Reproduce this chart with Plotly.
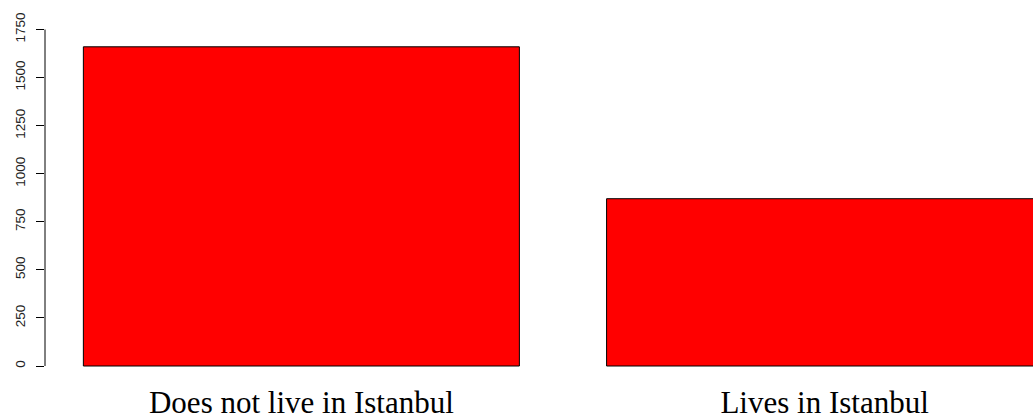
import plotly.graph_objects as go

# Counts per group
categories = ["Does not live in Istanbul", "Lives in Istanbul"]
counts = [1660, 870]
y_ticks = [0, 250, 500, 750, 1000, 1250, 1500, 1750]

# Bar layout in the style of base-R barplot: unit width, 0.2 spacing
bar_width = 1.0
space = 0.2
centers = [space + i * (bar_width + space) + bar_width / 2 for i in range(len(categories))]

fig = go.Figure(
    go.Bar(
        x=centers,
        y=counts,
        width=bar_width,
        marker=dict(color="#FF0000", line=dict(color="#000000", width=1)),
        hoverinfo="x+y",
    )
)

fig.update_layout(
    width=1033,
    height=420,
    margin=dict(l=45, r=0, t=0, b=50),
    paper_bgcolor="white",
    plot_bgcolor="white",
    showlegend=False,
    xaxis=dict(
        range=[0.112, 2.378],
        tickvals=centers,
        ticktext=categories,
        showgrid=False,
        zeroline=False,
        showline=False,
        ticks="",
        automargin=False,
        tickfont=dict(family="Liberation Serif", size=31, color="#000000"),
        ticklabelstandoff=11,
    ),
    yaxis=dict(
        range=[-20.8, 1903.4],
        tickvals=y_ticks,
        showgrid=False,
        zeroline=False,
        showline=False,
        ticks="outside",
        ticklen=8,
        tickcolor="#000000",
        tickwidth=1,
        tickangle=-90,
        automargin=False,
        tickfont=dict(family="Liberation Sans", size=13.5, color="#222222"),
        ticklabelstandoff=6,
    ),
    shapes=[
        dict(
            type="line",
            xref="paper",
            yref="y",
            x0=0,
            x1=0,
            y0=y_ticks[0],
            y1=y_ticks[-1],
            line=dict(color="#000000", width=1),
        )
    ],
)

fig.write_html("out.html")
